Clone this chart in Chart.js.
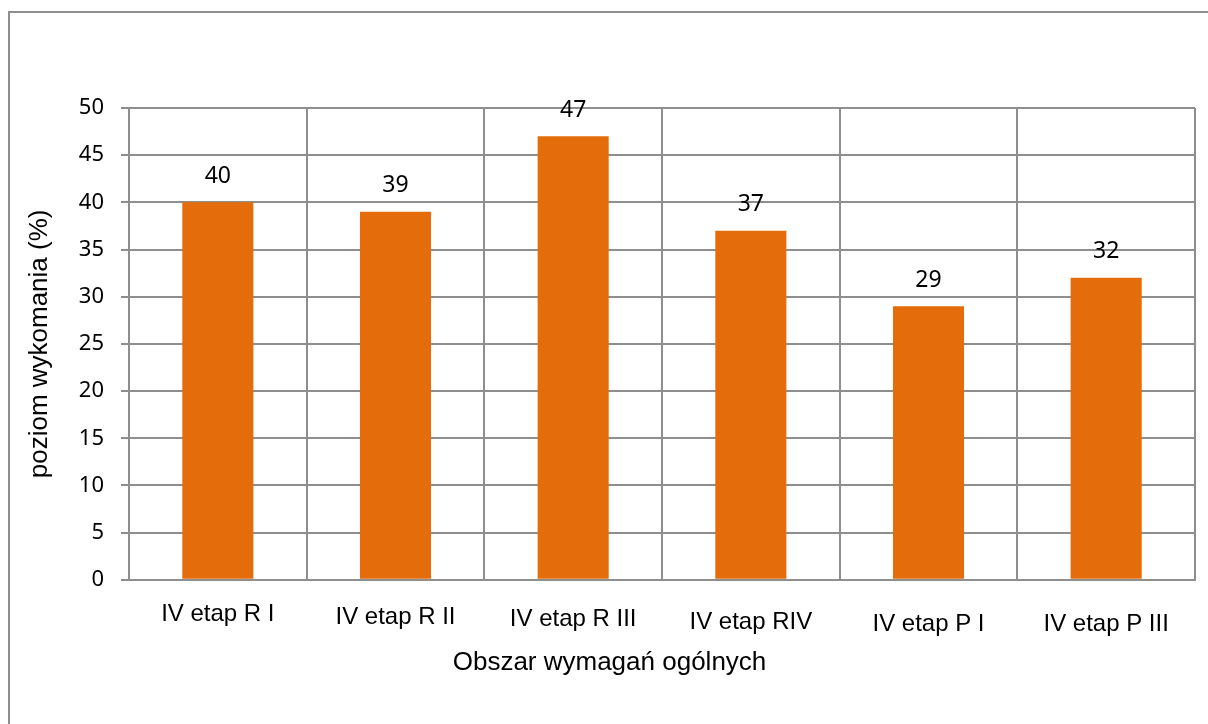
<!DOCTYPE html>
<html>
<head>
<meta charset="utf-8">
<script src="https://cdn.jsdelivr.net/npm/chart.js@4.4.1/dist/chart.umd.min.js"></script>
<style>
  html, body { margin: 0; padding: 0; background: #fff; overflow: hidden; }
  #frame { position: absolute; left: 8px; top: 11px; width: 1400px; height: 900px; border: 2px solid #8e8e8e; }
  #canvas { position: absolute; left: 0; top: 0; }
</style>
</head>
<body>
<div id="frame"></div>
<canvas id="canvas" width="1208" height="724"></canvas>
<script>
var categories = ['IV etap R I', 'IV etap R II', 'IV etap R III', 'IV etap RIV', 'IV etap P I', 'IV etap P III'];
var values = [40, 39, 47, 37, 29, 32];
var yTicks = [0, 5, 10, 15, 20, 25, 30, 35, 40, 45, 50];

var gridGrey = '#8e8e8e';
var barOrange = '#e46c0a';

// numbers above the bars
var valueLabels = {
  id: 'valueLabels',
  afterDatasetsDraw: function(chart) {
    var ctx = chart.ctx;
    var meta = chart.getDatasetMeta(0);
    ctx.save();
    ctx.font = '23px "Noto Sans"';
    ctx.fillStyle = '#000';
    ctx.textAlign = 'center';
    ctx.textBaseline = 'middle';
    meta.data.forEach(function(bar, i) {
      ctx.fillText(String(values[i]), bar.x, bar.y - 26);
    });
    ctx.restore();
  }
};

// the labels in the picture drift down a little from left to right
var labelDrop = [0, 3, 5, 8, 10, 10];

var config = {
  type: 'bar',
  data: {
    labels: categories,
    datasets: [{
      data: values,
      backgroundColor: barOrange,
      borderWidth: 0,
      barPercentage: 0.4,
      categoryPercentage: 1.0
    }]
  },
  options: {
    responsive: false,
    animation: false,
    layout: {
      padding: { left: 24, right: 13, top: 108, bottom: 46 }
    },
    plugins: {
      legend: { display: false },
      tooltip: { enabled: false },
      title: {
        display: true,
        position: 'bottom',
        text: 'Obszar wymagań ogólnych',
        color: '#000',
        font: { family: 'Liberation Sans', size: 26, weight: 'normal' },
        padding: { top: 7, bottom: 0 }
      }
    },
    scales: {
      x: {
        grid: { color: gridGrey, lineWidth: 2, drawTicks: false, offset: true },
        border: { display: true, color: gridGrey, width: 2 },
        ticks: {
          color: '#000',
          padding: 20,
          maxRotation: 0,
          autoSkip: false,
          font: function(c) {
            return { family: 'Liberation Sans', size: 24, lineHeight: (28.8 + 2 * (labelDrop[c.index] || 0)) + 'px' };
          }
        },
        afterFit: function(scale) { scale.height = 60; }
      },
      y: {
        min: 0,
        max: 50,
        grid: { color: gridGrey, lineWidth: 2, drawTicks: true, tickLength: 8 },
        border: { display: true, color: gridGrey, width: 2 },
        ticks: {
          color: '#000',
          padding: 17,
          font: { family: 'Noto Sans', size: 22 }
        },
        afterBuildTicks: function(scale) {
          scale.ticks = yTicks.map(function(v) { return { value: v }; });
        },
        title: {
          display: true,
          text: 'poziom wykomania (%)',
          color: '#000',
          font: { family: 'Liberation Sans', size: 26 },
          padding: 0
        },
        afterFit: function(scale) { scale.width = 105; }
      }
    }
  },
  plugins: [valueLabels]
};

window.onload = function() {
  window.myBar = new Chart(document.getElementById('canvas'), config);
};
</script>
</body>
</html>
